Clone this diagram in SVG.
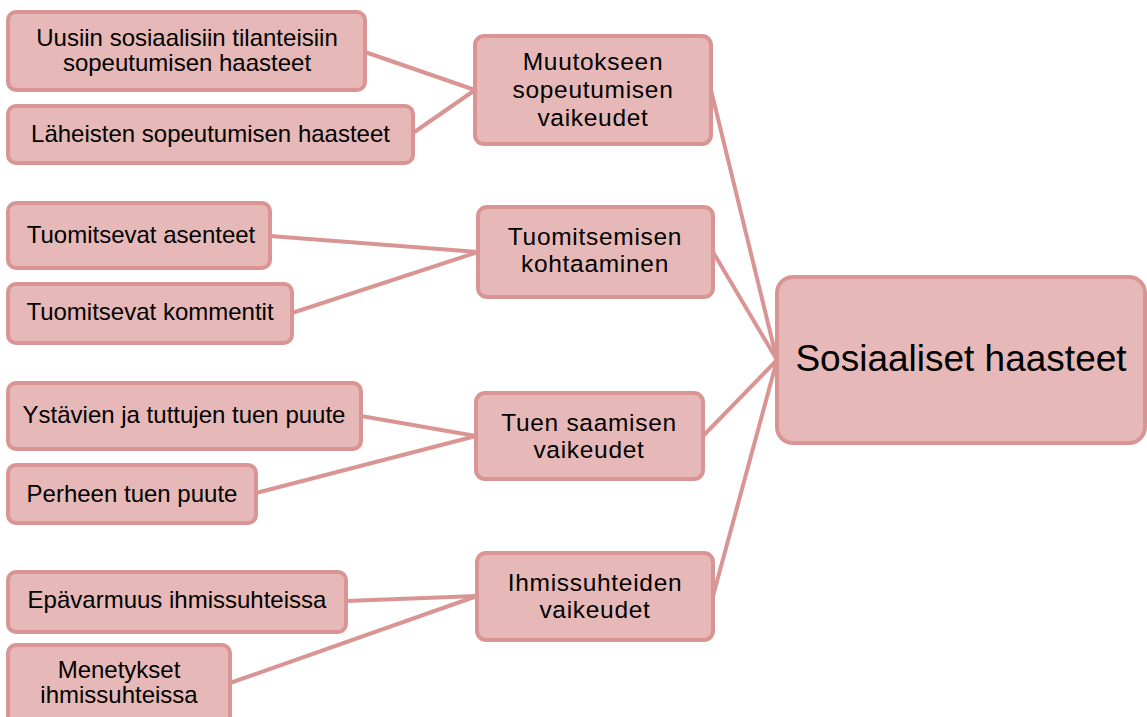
<svg xmlns="http://www.w3.org/2000/svg" width="1147" height="717" viewBox="0 0 1147 717">
<style>
.box{fill:#E6B8B7;stroke:#D99594;stroke-width:4}
.con line{stroke:#D99594;stroke-width:4;fill:none}
text{font-family:"Liberation Sans",Arial,sans-serif;fill:#000;text-anchor:middle}
.s{font-size:24px}
.m{font-size:24.5px;letter-spacing:0.7px}
.l{font-size:37px}
</style>
<rect width="1147" height="717" fill="#fff"/>
<g id="connectors" class="con">
<line x1="365" y1="52" x2="475" y2="90"/>
<line x1="413" y1="133" x2="475" y2="90"/>
<line x1="270" y1="236" x2="478" y2="252"/>
<line x1="292" y1="313" x2="478" y2="252"/>
<line x1="361" y1="416" x2="476" y2="436"/>
<line x1="256" y1="493" x2="476" y2="436"/>
<line x1="346" y1="601" x2="477" y2="596"/>
<line x1="230" y1="683" x2="477" y2="596"/>
<line x1="711" y1="90" x2="777" y2="360"/>
<line x1="713" y1="252" x2="777" y2="360"/>
<line x1="703" y1="436" x2="777" y2="360"/>
<line x1="713" y1="596" x2="777" y2="360"/>
</g>
<g id="n1"><rect class="box" x="8" y="12" width="357" height="78" rx="8"/><text class="s" x="187" y="46">Uusiin sosiaalisiin tilanteisiin</text><text class="s" x="187" y="71">sopeutumisen haasteet</text></g>
<g id="n2"><rect class="box" x="8" y="106" width="405" height="57" rx="8"/><text class="s" x="210.5" y="142">Läheisten sopeutumisen haasteet</text></g>
<g id="n3"><rect class="box" x="8" y="203" width="262" height="65" rx="8"/><text class="s" x="141" y="243">Tuomitsevat asenteet</text></g>
<g id="n4"><rect class="box" x="8" y="284" width="284" height="59" rx="8"/><text class="s" x="150" y="320">Tuomitsevat kommentit</text></g>
<g id="n5"><rect class="box" x="8" y="383" width="353" height="66" rx="8"/><text class="s" x="184" y="423">Ystävien ja tuttujen tuen puute</text></g>
<g id="n6"><rect class="box" x="8" y="465" width="248" height="58" rx="8"/><text class="s" x="132" y="502">Perheen tuen puute</text></g>
<g id="n7"><rect class="box" x="8" y="572" width="338" height="60" rx="8"/><text class="s" x="177" y="608">Epävarmuus ihmissuhteissa</text></g>
<g id="n8"><rect class="box" x="8" y="645" width="222" height="80" rx="8"/><text class="s" x="119" y="678">Menetykset</text><text class="s" x="119" y="703">ihmissuhteissa</text></g>
<g id="m1"><rect class="box" x="475" y="36" width="236" height="108" rx="9"/><text class="m" x="593" y="70">Muutokseen</text><text class="m" x="593" y="98">sopeutumisen</text><text class="m" x="593" y="126">vaikeudet</text></g>
<g id="m2"><rect class="box" x="478" y="207" width="235" height="90" rx="9"/><text class="m" x="595" y="244.5">Tuomitsemisen</text><text class="m" x="595" y="272">kohtaaminen</text></g>
<g id="m3"><rect class="box" x="476" y="393" width="227" height="86" rx="9"/><text class="m" x="589" y="430.5">Tuen saamisen</text><text class="m" x="589" y="458">vaikeudet</text></g>
<g id="m4"><rect class="box" x="477" y="553" width="236" height="87" rx="9"/><text class="m" x="595" y="590.5">Ihmissuhteiden</text><text class="m" x="595" y="618">vaikeudet</text></g>
<g id="root"><rect class="box" x="777" y="277" width="368" height="166" rx="16"/><text class="l" x="961" y="371">Sosiaaliset haasteet</text></g>
</svg>
